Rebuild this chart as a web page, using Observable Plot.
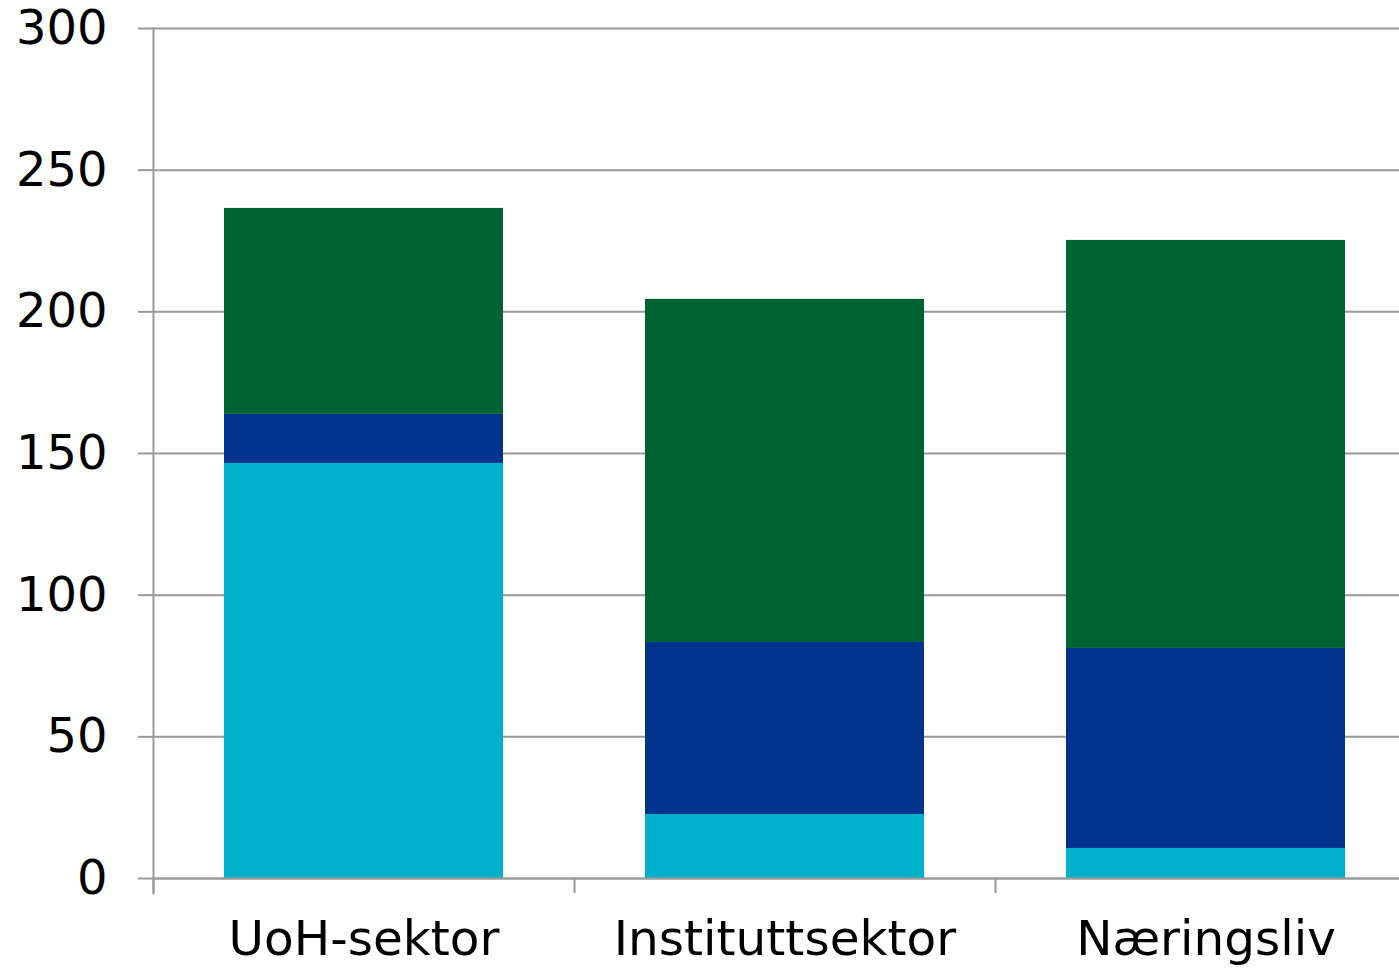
<!DOCTYPE html>
<html>
<head>
<meta charset="utf-8">
<script src="https://cdn.jsdelivr.net/npm/d3@7"></script>
<script src="https://cdn.jsdelivr.net/npm/@observablehq/plot@0.6"></script>
<style>
  html, body { margin: 0; padding: 0; background: #fff; overflow: hidden; }
  svg { display: block; }
</style>
</head>
<body>
<div id="chart"></div>
<script>
const categories = ["UoH-sektor", "Instituttsektor", "Næringsliv"];
const seriesNames = ["Serie 1", "Serie 2", "Serie 3"];
const series1 = [146.5, 22.6, 10.6];
const series2 = [17.3, 60.7, 70.6];
const series3 = [72.7, 121.1, 144.0];
const seriesColors = ["#00b0ca", "#00338d", "#006331"];
const yTicks = [0, 50, 100, 150, 200, 250, 300];

const data = [];
[series1, series2, series3].forEach((vals, s) =>
  vals.forEach((v, i) => data.push({category: categories[i], series: seriesNames[s], value: v}))
);

const gray = "#999";

const chart = Plot.plot({
  width: 1399,
  height: 968,
  marginTop: 28,
  marginBottom: 90,
  marginLeft: 153,
  marginRight: 0,
  style: {fontFamily: "DejaVu Sans", fontSize: "48px", color: "#000", background: "#fff"},
  x: {type: "band", domain: categories, range: [153, 1416], paddingInner: 0.337, paddingOuter: 0.1685, label: null},
  y: {domain: [0, 300], label: null},
  color: {domain: seriesNames, range: seriesColors},
  marks: [
    Plot.gridY(yTicks, {stroke: gray, strokeOpacity: 1, strokeWidth: 2}),
    Plot.axisY(yTicks, {tickSize: 15, tickPadding: 31, stroke: gray, strokeWidth: 2, fill: "#000", fontSize: 48, label: null}),
    Plot.barY(data, {x: "category", y: "value", fill: "series", order: seriesNames}),
    Plot.ruleY([0], {stroke: gray, strokeWidth: 2}),
    Plot.frame({anchor: "left", insetBottom: -15, stroke: gray, strokeWidth: 2}),
    Plot.axisX({tickSize: 0, tickPadding: 42, fill: "#000", fontSize: 48.5, label: null}),
    Plot.axisX({tickSize: 15, tickFormat: () => "", dx: -210.5, stroke: gray, strokeWidth: 2, label: null})
  ]
});
document.getElementById("chart").appendChild(chart);
</script>
</body>
</html>
